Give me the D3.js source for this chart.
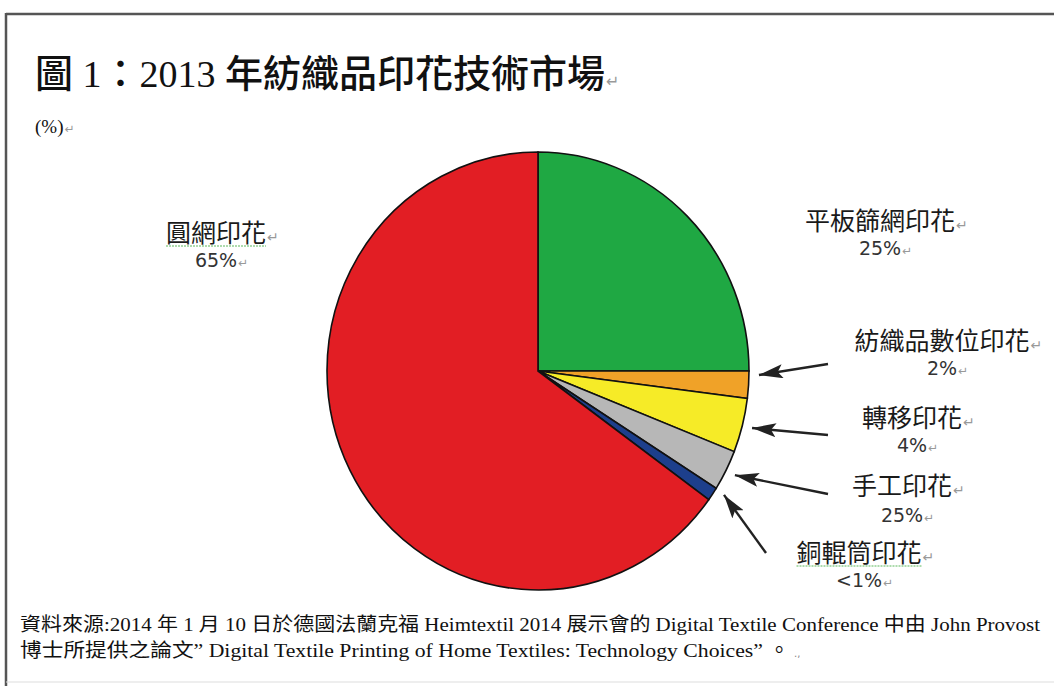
<!DOCTYPE html>
<html>
<head>
<meta charset="utf-8">
<script src="https://cdn.jsdelivr.net/npm/d3@7"></script>
<style>
  html, body { margin: 0; padding: 0; background: #fff; }
  svg { display: block; }
</style>
</head>
<body>
<svg id="chart" width="1054" height="686"></svg>
<script>
// ---- data ----
const categories = ["平板篩網印花", "紡織品數位印花", "轉移印花", "手工印花", "銅輥筒印花", "圓網印花"];
const values = [25, 2, 4, 3, 1, 65];
const valueLabels = ["25%", "2%", "4%", "25%", "<1%", "65%"];
const colors = ["#1fa843", "#f0a228", "#f6eb27", "#b7b7b7", "#1d3f8c", "#e21e24"];
const titleText = "圖 1：2013 年紡織品印花技術市場";
const unitText = "(%)";
const footerLines = [
  "資料來源:2014 年 1 月 10 日於德國法蘭克福 Heimtextil 2014 展示會的 Digital Textile Conference 中由 John Provost",
  "博士所提供之論文”  Digital Textile Printing of Home Textiles: Technology Choices”  。"
];

// ---- layout (not data) ----
const labelLayout = [
  { cx: 880, ny: 230, py: 255, arrow: null },
  { cx: 942, ny: 350, py: 375, arrow: { tx: 828, ty: 364, shift: -2.6 } },
  { cx: 912, ny: 427, py: 452, arrow: { tx: 828, ty: 435, shift: 0 } },
  { cx: 902, ny: 495, py: 522, arrow: { tx: 828, ty: 494, shift: 0 } },
  { cx: 859, ny: 562, py: 587, arrow: { tx: 766, ty: 553, shift: -1.5 }, squiggle: true },
  { cx: 216, ny: 242, py: 267, arrow: null, squiggle: true }
];

const svg = d3.select("#chart");
const cx = 538, cy = 371, rx = 211, ry = 219;

// border
svg.append("line").attr("x1", 6).attr("y1", 14).attr("x2", 1054).attr("y2", 14)
  .attr("stroke", "#555").attr("stroke-width", 2.5);
svg.append("line").attr("x1", 6).attr("y1", 13).attr("x2", 6).attr("y2", 686)
  .attr("stroke", "#555").attr("stroke-width", 2.5);
svg.append("line").attr("x1", 6).attr("y1", 682).attr("x2", 1054).attr("y2", 682)
  .attr("stroke", "#ddd").attr("stroke-width", 1);

const cjkSerif = "'Liberation Serif', 'Noto Sans CJK TC', serif";
const cjkSans = "'Noto Sans CJK TC', 'Noto Sans', sans-serif";

function retMark(textSel, size) {
  const bb = textSel.node().getBBox();
  svg.append("text").attr("x", bb.x + bb.width + 1).attr("y", +textSel.attr("y"))
    .attr("font-family", "'DejaVu Sans', sans-serif").attr("font-size", size)
    .attr("fill", "#999").text("↵");
}

// title
const title = svg.append("text").attr("x", 35).attr("y", 87)
  .attr("font-family", cjkSerif).attr("font-size", 38).attr("fill", "#111")
  .attr("font-weight", 500)
  .attr("textLength", 570).attr("lengthAdjust", "spacingAndGlyphs")
  .text(titleText);
retMark(title, 16);

const unit = svg.append("text").attr("x", 35).attr("y", 133)
  .attr("font-family", cjkSerif).attr("font-size", 19).attr("fill", "#111")
  .text(unitText);
retMark(unit, 12);

// pie
const pie = d3.pie().sort(null).value(d => d)(values);
const arc = d3.arc().innerRadius(0).outerRadius(rx);
const g = svg.append("g").attr("transform", `translate(${cx},${cy}) scale(1,${ry / rx})`);
g.selectAll("path").data(pie).join("path")
  .attr("d", arc)
  .attr("fill", (d, i) => colors[i])
  .attr("stroke", "#111")
  .attr("stroke-width", 1.6)
  .attr("vector-effect", "non-scaling-stroke");

// arrow marker (tip at x=24, pointing along the line direction)
svg.append("defs").append("marker")
  .attr("id", "ah").attr("viewBox", "0 0 24 14").attr("refX", 24).attr("refY", 7)
  .attr("markerWidth", 24).attr("markerHeight", 14).attr("markerUnits", "userSpaceOnUse")
  .attr("orient", "auto")
  .append("path").attr("d", "M24,7 L0,0 L5,7 L0,14 Z").attr("fill", "#222");

// labels & arrows
categories.forEach((name, i) => {
  const L = labelLayout[i];
  const t = svg.append("text").attr("x", L.cx).attr("y", L.ny)
    .attr("text-anchor", "middle").attr("font-family", cjkSans)
    .attr("font-size", 25).attr("fill", "#1a1a1a").text(name);
  retMark(t, 14);
  if (L.squiggle) {
    const bb = t.node().getBBox();
    svg.append("line").attr("x1", bb.x).attr("x2", bb.x + bb.width)
      .attr("y1", L.ny + 4).attr("y2", L.ny + 4)
      .attr("stroke", "#5cb85c").attr("stroke-width", 1.2).attr("stroke-dasharray", "2,1");
  }
  const p = svg.append("text").attr("x", L.cx).attr("y", L.py)
    .attr("text-anchor", "middle").attr("font-family", "'DejaVu Sans', sans-serif")
    .attr("font-size", 19).attr("fill", "#333").text(valueLabels[i]);
  retMark(p, 12);

  if (L.arrow) {
    const s = pie[i];
    const a = (s.startAngle + s.endAngle) / 2 + L.arrow.shift * Math.PI / 180;
    const r = rx + 10;
    const tipX = cx + r * Math.sin(a);
    const tipY = cy - r * (ry / rx) * Math.cos(a);
    svg.append("line")
      .attr("x1", L.arrow.tx).attr("y1", L.arrow.ty)
      .attr("x2", tipX).attr("y2", tipY)
      .attr("stroke", "#222").attr("stroke-width", 2.4)
      .attr("marker-end", "url(#ah)");
  }
});

// footer
svg.append("text").attr("x", 20).attr("y", 631)
  .attr("font-family", cjkSerif).attr("font-size", 19).attr("fill", "#111")
  .attr("textLength", 1020).attr("lengthAdjust", "spacingAndGlyphs")
  .text(footerLines[0]);
svg.append("text").attr("x", 20).attr("y", 657)
  .attr("font-family", cjkSerif).attr("font-size", 19).attr("fill", "#111")
  .attr("textLength", 770).attr("lengthAdjust", "spacingAndGlyphs")
  .text(footerLines[1]);
svg.append("text").attr("x", 794).attr("y", 657)
  .attr("font-family", "'DejaVu Sans', sans-serif").attr("font-size", 10).attr("fill", "#888").text(".,");
</script>
</body>
</html>
